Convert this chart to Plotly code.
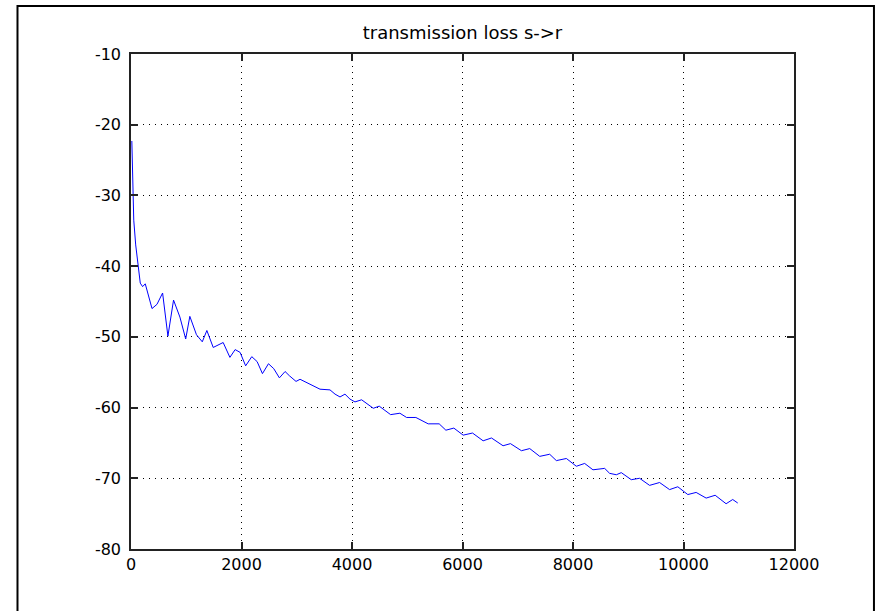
import plotly.graph_objects as go

title_text = "transmission loss s->r"

x_vals = [15, 30, 50, 85, 120, 168, 210, 258, 380, 470, 572, 633, 668, 770, 885, 990, 1065, 1185,
          1290, 1373, 1488, 1668, 1790, 1885, 1975, 2075, 2186, 2283, 2379, 2488, 2584, 2686,
          2789, 2867, 2987, 3060, 3180, 3421, 3602, 3693, 3783, 3873, 3963, 4054, 4174, 4385,
          4493, 4699, 4867, 4988, 5156, 5379, 5578, 5699, 5843, 6012, 6181, 6373, 6525, 6734,
          6868, 7067, 7217, 7398, 7578, 7699, 7880, 8061, 8211, 8361, 8573, 8663, 8784, 8874,
          9055, 9205, 9386, 9567, 9748, 9897, 10078, 10229, 10410, 10573, 10771, 10891, 10982]
y_vals = [-22.3, -27.8, -33.5, -37.0, -39.3, -42.4, -42.9, -42.5, -46.0, -45.4, -43.8, -47.6, -49.9,
          -44.8, -47.2, -50.3, -47.1, -49.7, -50.7, -49.1, -51.5, -50.8, -52.9, -51.8, -52.2,
          -54.1, -52.8, -53.5, -55.2, -53.8, -54.5, -55.8, -54.9, -55.5, -56.3, -56.0, -56.5,
          -57.4, -57.5, -58.1, -58.5, -58.1, -58.8, -59.2, -58.9, -60.1, -59.8, -61.0, -60.8,
          -61.4, -61.4, -62.3, -62.3, -63.2, -62.9, -63.9, -63.6, -64.7, -64.3, -65.4, -65.1,
          -66.1, -65.8, -66.9, -66.6, -67.5, -67.2, -68.3, -67.9, -68.8, -68.6, -69.3, -69.5,
          -69.2, -70.2, -70.0, -71.0, -70.6, -71.6, -71.2, -72.3, -72.0, -72.8, -72.4, -73.6,
          -73.0, -73.5]

x_ticks = [0, 2000, 4000, 6000, 8000, 10000, 12000]
y_ticks = [-80, -70, -60, -50, -40, -30, -20, -10]

font_family = "DejaVu Sans, Arial, sans-serif"

fig = go.Figure()
fig.add_trace(go.Scatter(x=x_vals, y=y_vals, mode="lines",
                         line=dict(color="#0000FF", width=1), showlegend=False,
                         hoverinfo="skip"))

axis_common = dict(
    showline=True, linecolor="#222222", linewidth=1.5, mirror="ticks",
    ticks="inside", ticklen=7, tickcolor="#222222", tickwidth=1.5,
    showgrid=True, gridcolor="#000000", gridwidth=1, griddash="1px,5px",
    zeroline=False, tickfont=dict(family=font_family, size=16, color="#000000"),
)

fig.update_xaxes(range=[0, 12000], tickvals=x_ticks,
                 ticktext=[str(v) for v in x_ticks], ticklabelstandoff=0, **axis_common)
fig.update_yaxes(range=[-80, -10], tickvals=y_ticks,
                 ticktext=[str(v) for v in y_ticks], ticklabelstandoff=5, **axis_common)

fig.update_layout(
    width=884, height=611,
    margin=dict(l=131, r=90, t=54, b=62, autoexpand=False),
    paper_bgcolor="white", plot_bgcolor="white",
    title=dict(text=title_text, x=0.5, xref="paper", xanchor="center",
               y=1 - 33 / 611, yref="container", yanchor="middle",
               font=dict(family=font_family, size=18, color="#000000")),
    shapes=[dict(type="rect", xref="paper", yref="paper",
                 x0=-0.1712, x1=1.1206, y0=-0.20, y1=1.0970,
                 line=dict(color="#000000", width=2), fillcolor="rgba(0,0,0,0)",
                 layer="below")],
)

fig.write_html("out.html")
